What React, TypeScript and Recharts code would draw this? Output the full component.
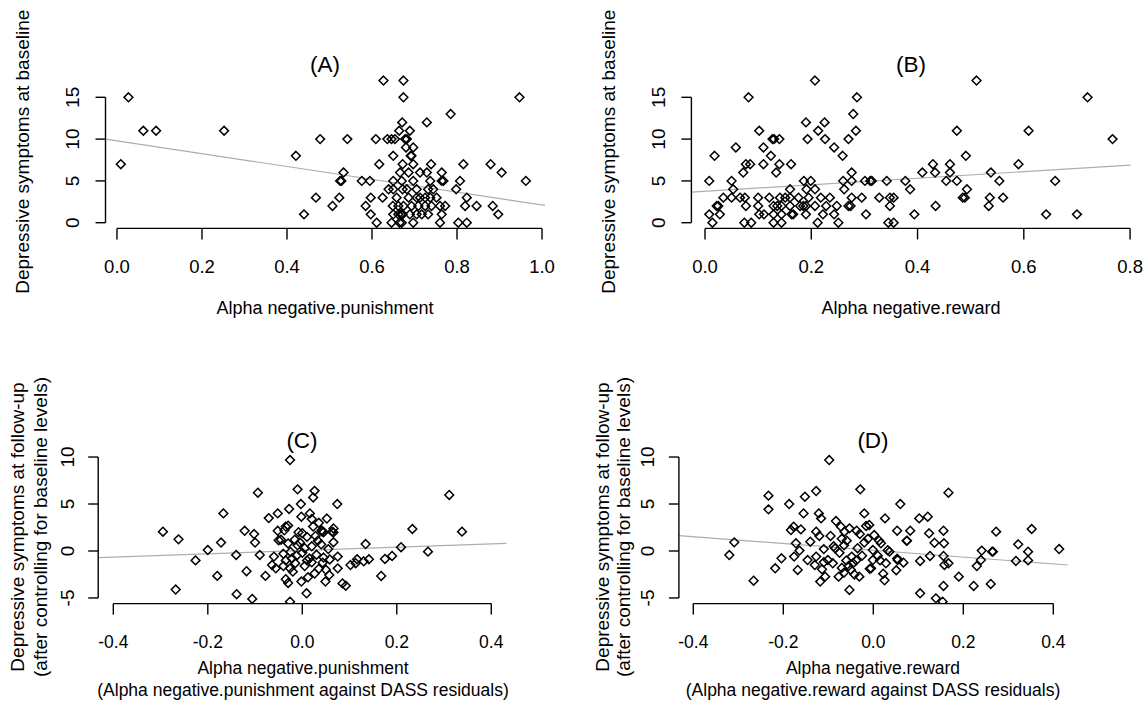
import React from 'react';
import { ScatterChart, Scatter, XAxis, YAxis, ReferenceLine, Customized } from 'recharts';

const FONT = '"Liberation Sans", Arial, Helvetica, sans-serif';

// ---------- data ----------
const panelAPoints: [number, number][] = [
  [0.627, 17], [0.674, 17],
  [0.027, 15], [0.674, 15], [0.947, 15],
  [0.785, 13],
  [0.671, 12], [0.729, 12],
  [0.062, 11], [0.092, 11], [0.252, 11], [0.664, 11], [0.689, 11],
  [0.478, 10], [0.542, 10], [0.609, 10], [0.636, 10], [0.646, 10], [0.654, 10], [0.678, 10], [0.682, 10],
  [0.68, 9], [0.697, 9],
  [0.421, 8], [0.65, 8], [0.691, 8], [0.693, 8],
  [0.009, 7], [0.617, 7], [0.672, 7], [0.697, 7], [0.739, 7], [0.815, 7], [0.879, 7],
  [0.533, 6], [0.666, 6], [0.686, 6], [0.713, 6], [0.729, 6], [0.764, 6], [0.905, 6],
  [0.525, 5], [0.528, 5], [0.576, 5], [0.595, 5], [0.65, 5], [0.67, 5], [0.697, 5], [0.737, 5], [0.764, 5], [0.768, 5], [0.807, 5], [0.962, 5],
  [0.639, 4], [0.65, 4], [0.672, 4], [0.682, 4], [0.705, 4], [0.732, 4], [0.744, 4], [0.798, 4],
  [0.468, 3], [0.523, 3], [0.597, 3], [0.625, 3], [0.658, 3], [0.686, 3], [0.705, 3], [0.713, 3], [0.725, 3], [0.737, 3], [0.752, 3], [0.823, 3],
  [0.507, 2], [0.585, 2], [0.649, 2], [0.662, 2], [0.674, 2], [0.693, 2], [0.709, 2], [0.725, 2], [0.74, 2], [0.76, 2], [0.772, 2], [0.819, 2], [0.846, 2], [0.884, 2],
  [0.44, 1], [0.597, 1], [0.65, 1], [0.662, 1], [0.668, 1], [0.67, 1], [0.672, 1], [0.689, 1], [0.705, 1], [0.717, 1], [0.732, 1], [0.764, 1], [0.897, 1],
  [0.611, 0], [0.646, 0], [0.665, 0], [0.67, 0], [0.697, 0], [0.76, 0], [0.803, 0], [0.823, 0],
];

const panelBPoints: [number, number][] = [
  [0.207, 17], [0.511, 17],
  [0.082, 15], [0.286, 15], [0.72, 15],
  [0.279, 13],
  [0.19, 12], [0.225, 12],
  [0.102, 11], [0.213, 11], [0.284, 11], [0.474, 11], [0.609, 11],
  [0.127, 10], [0.13, 10], [0.14, 10], [0.193, 10], [0.226, 10], [0.27, 10], [0.767, 10],
  [0.058, 9], [0.11, 9], [0.243, 9],
  [0.018, 8], [0.124, 8], [0.259, 8], [0.491, 8],
  [0.077, 7], [0.085, 7], [0.11, 7], [0.14, 7], [0.162, 7], [0.429, 7], [0.461, 7], [0.59, 7],
  [0.072, 6], [0.134, 6], [0.276, 6], [0.409, 6], [0.433, 6], [0.461, 6], [0.538, 6],
  [0.008, 5], [0.05, 5], [0.186, 5], [0.199, 5], [0.26, 5], [0.276, 5], [0.301, 5], [0.311, 5], [0.314, 5], [0.342, 5], [0.377, 5], [0.454, 5], [0.474, 5], [0.554, 5], [0.659, 5],
  [0.053, 4], [0.16, 4], [0.191, 4], [0.207, 4], [0.262, 4], [0.386, 4], [0.493, 4],
  [0.0345, 3], [0.05, 3], [0.066, 3], [0.075, 3], [0.1, 3], [0.121, 3], [0.141, 3], [0.151, 3], [0.16, 3], [0.176, 3], [0.195, 3], [0.218, 3], [0.235, 3], [0.276, 3], [0.295, 3], [0.328, 3], [0.348, 3], [0.355, 3], [0.485, 3], [0.489, 3], [0.536, 3], [0.561, 3],
  [0.022, 2], [0.025, 2], [0.077, 2], [0.1, 2], [0.129, 2], [0.136, 2], [0.144, 2], [0.16, 2], [0.179, 2], [0.185, 2], [0.19, 2], [0.207, 2], [0.228, 2], [0.248, 2], [0.27, 2], [0.274, 2], [0.348, 2], [0.434, 2], [0.534, 2],
  [0.008, 1], [0.028, 1], [0.102, 1], [0.111, 1], [0.129, 1], [0.144, 1], [0.163, 1], [0.166, 1], [0.19, 1], [0.222, 1], [0.243, 1], [0.303, 1], [0.394, 1], [0.642, 1], [0.7, 1],
  [0.014, 0], [0.074, 0], [0.087, 0], [0.129, 0], [0.144, 0], [0.212, 0], [0.251, 0], [0.345, 0], [0.355, 0],
];

const panelCPoints: [number, number][] = [
  [-0.295, 2.05], [-0.262, 1.24], [-0.268, -4.1], [-0.226, -1.0], [-0.2, 0.1], [-0.18, -2.65], [-0.172, 0.9],
  [-0.167, 4.0], [-0.14, -0.42], [-0.139, -4.6], [-0.122, 2.15], [-0.118, -2.15], [-0.102, 1.8], [-0.1, 0.9],
  [-0.094, 6.2], [-0.106, -5.1], [-0.09, -0.42], [-0.078, -2.65], [-0.071, 3.5], [-0.052, 4.0], [-0.052, 2.15],
  [-0.05, 1.15], [-0.06, -0.6], [-0.064, -1.5], [-0.056, -1.85],
  [-0.026, 9.68], [-0.01, 6.56], [0.026, 6.4], [0.023, 5.7], [-0.003, 5.0], [0.074, 5.0], [0.311, 5.96],
  [0.338, 2.06], [0.233, 2.34], [0.266, -0.07], [0.134, 0.74], [0.209, 0.4], [0.19, -0.53], [0.175, -0.85],
  [0.167, -2.66], [0.141, -0.88], [0.13, -1.1], [0.116, -0.88], [0.113, -1.3], [0.102, -1.5], [0.075, -1.85],
  [0.057, -2.56], [0.085, -3.45], [0.092, -3.7], [0.009, -4.5], [-0.026, -5.4], [-0.002, -3.25], [0.075, -0.6],
  [0.066, 0.93], [0.066, 1.98], [0.066, 2.4], [0.052, 3.45], [-0.028, 4.47], [0.016, 4.0], [-0.002, 3.65],
  [-0.035, 2.6], [-0.03, 2.7], [-0.038, 2.2], [0.023, 2.6], [0.041, 2.2], [0.045, 2.0], [0.035, 3.0], [0.02, 3.4],
  [-0.045, 1.2], [-0.016, 1.2], [0.01, 1.5], [0.033, 1.1], [-0.03, 0.8], [-0.01, 0.6], [0.005, 0.3], [0.02, 0.5],
  [0.04, 0.7], [0.055, 0.2], [-0.04, -0.3], [-0.025, -0.1], [-0.012, -0.5], [0.0, -0.2], [0.015, -0.8], [0.03, -0.4],
  [0.045, -0.7], [0.058, -0.9], [-0.035, -1.0], [-0.026, -1.85], [-0.04, -1.6], [-0.015, -1.3], [0.005, -1.6],
  [0.02, -1.2], [0.043, -1.25], [0.035, -1.9], [-0.02, -2.2], [0.026, -2.4], [-0.035, -3.0], [-0.03, -3.4],
  [0.049, -3.25], [0.05, -2.0], [0.012, -2.8], [-0.008, 2.0], [0.0, 1.9], [0.063, 2.06], [0.042, 2.06],
  [-0.022, -0.8], [0.01, -1.0], [-0.005, 0.9], [0.028, 1.6],
];

const panelDPoints: [number, number][] = [
  [-0.098, 9.68], [-0.233, 5.89], [-0.233, 4.43], [-0.187, 5.0], [-0.152, 5.78], [-0.127, 6.38], [-0.029, 6.56],
  [0.167, 6.2], [0.06, 5.0], [-0.155, 4.0], [-0.121, 4.0], [-0.116, 3.47], [-0.02, 4.0], [0.026, 3.47],
  [0.102, 3.47], [0.121, 3.65], [-0.083, 3.19], [-0.072, 2.59], [-0.053, 2.41], [-0.037, 2.16], [-0.064, 2.06],
  [-0.016, 2.66], [0.053, 2.16], [0.082, 2.16], [0.124, 1.88], [0.156, 2.16], [0.273, 2.06], [0.352, 2.34],
  [-0.177, 2.59], [-0.183, 2.23], [-0.161, 2.3], [-0.127, 2.06], [-0.12, 1.6], [-0.309, 0.92], [-0.32, -0.43],
  [-0.266, -3.16], [-0.204, -0.78], [-0.218, -1.84], [-0.168, -2.02], [-0.176, -0.6], [-0.164, 0.04],
  [-0.172, 0.82], [-0.146, -0.96], [-0.14, 0.99], [-0.127, -0.6], [-0.118, -3.26], [-0.114, -1.95],
  [-0.107, -2.73], [-0.101, -0.96], [-0.09, -1.31], [-0.085, 0.28], [-0.077, -2.73], [-0.06, -1.0],
  [-0.055, -1.6], [-0.048, -0.6], [-0.045, -1.3], [-0.038, -1.0], [-0.053, -4.15], [-0.059, 1.1],
  [-0.031, -2.73], [-0.005, -1.84], [-0.008, -1.9], [-0.001, -0.96], [-0.001, 0.1], [0.017, 0.82],
  [0.028, -1.31], [0.025, -3.12], [0.036, -0.07], [0.022, -2.41], [0.054, -0.96], [0.051, -2.05],
  [0.067, -1.24], [0.075, 1.1], [0.104, -1.06], [0.104, -4.5], [0.126, -0.53], [0.139, -5.04], [0.154, -5.39],
  [0.156, -0.53], [0.157, 0.82], [0.158, -1.49], [0.156, -3.72], [0.167, -1.31], [0.19, -2.73], [0.223, -3.72],
  [0.23, -1.6], [0.241, 0.04], [0.239, -0.96], [0.261, -3.51], [0.264, -0.07], [0.266, -0.07], [0.317, -1.06],
  [0.322, 0.71], [0.344, -0.07], [0.344, -1.0], [0.413, 0.21], [-0.009, 2.77], [0.002, 1.7], [0.013, 1.1],
  [0.074, 1.08], [0.136, 0.87], [0.032, 0.08], [0.053, -0.81],
  [-0.095, 1.6], [-0.088, 0.5], [-0.075, -0.2], [-0.07, -1.8], [-0.065, -2.3], [-0.05, -2.0], [-0.042, -2.5],
  [-0.035, 0.3], [-0.025, -0.5], [-0.02, 0.9], [-0.012, 1.3], [-0.03, 1.8], [0.01, -0.5], [0.015, -1.0],
  [-0.065, 0.6], [-0.11, 0.2], [-0.13, -1.5], [-0.11, -1.2], [-0.07, 1.3],
];

// tick values
const xTicksA = [0, 0.2, 0.4, 0.6, 0.8, 1.0];
const xTicksB = [0, 0.2, 0.4, 0.6, 0.8];
const yTicksAB = [0, 5, 10, 15];
const xTicksCD = [-0.4, -0.2, 0, 0.2, 0.4];
const yTicksCD = [-5, 0, 5, 10];

// fitted regression lines (intercept, slope)
const fitA = { intercept: 9.79, slope: -7.66 };
const fitB = { intercept: 3.75, slope: 3.93 };
const fitC = { intercept: 0.05, slope: 1.77 };
const fitD = { intercept: 0.07, slope: -3.61 };

// ---------- layout ----------
type Box = { left: number; top: number; w: number; h: number };
type Plot = { l: number; t: number; r: number; b: number };
type PanelCfg = {
  id: string;
  box: Box;
  plot: Plot;
  xDomain: [number, number];
  yDomain: [number, number];
  xTicks: number[];
  yTicks: number[];
  points: [number, number][];
  fit: { intercept: number; slope: number };
  title: string;
  titlePos: [number, number];
  xLabel: string[];
  xLabelX: number;
  xLabelY: number[];
  xLabelSize: number;
  yLabel: string[];
  yLabelX: number[];
  yLabelY: number;
  xTickY: number;
  yTickX: number;
  xTickSize: number;
};

const panels: PanelCfg[] = [
  {
    id: 'A',
    box: { left: 0, top: 0, w: 573, h: 330 },
    plot: { l: 105.5, t: 74.9, r: 545, b: 228.4 },
    xDomain: [-0.027, 1.007],
    yDomain: [-0.68, 17.68],
    xTicks: xTicksA,
    yTicks: yTicksAB,
    points: panelAPoints,
    fit: fitA,
    title: '(A)',
    titlePos: [325, 64],
    xLabel: ['Alpha negative.punishment'],
    xLabelX: 325,
    xLabelY: [308],
    xLabelSize: 18,
    yLabel: ['Depressive symptoms at baseline'],
    yLabelX: [23],
    yLabelY: 151.7,
    xTickY: 266,
    yTickX: 72.5,
    xTickSize: 18.5,
  },
  {
    id: 'B',
    box: { left: 573, top: 0, w: 573, h: 330 },
    plot: { l: 691.4, t: 74.9, r: 1130.4, b: 228.4 },
    xDomain: [-0.0256, 0.8006],
    yDomain: [-0.68, 17.68],
    xTicks: xTicksB,
    yTicks: yTicksAB,
    points: panelBPoints,
    fit: fitB,
    title: '(B)',
    titlePos: [911, 64],
    xLabel: ['Alpha negative.reward'],
    xLabelX: 911,
    xLabelY: [308],
    xLabelSize: 18,
    yLabel: ['Depressive symptoms at baseline'],
    yLabelX: [609],
    yLabelY: 151.7,
    xTickY: 266,
    yTickX: 659,
    xTickSize: 18.5,
  },
  {
    id: 'C',
    box: { left: 0, top: 330, w: 573, h: 373 },
    plot: { l: 98.2, t: 451.4, r: 506.4, b: 603.6 },
    xDomain: [-0.432, 0.432],
    yDomain: [-5.6, 10.6],
    xTicks: xTicksCD,
    yTicks: yTicksCD,
    points: panelCPoints,
    fit: fitC,
    title: '(C)',
    titlePos: [302, 440],
    xLabel: ['Alpha negative.punishment', '(Alpha negative.punishment against DASS residuals)'],
    xLabelX: 303,
    xLabelY: [668, 690],
    xLabelSize: 17.5,
    yLabel: ['Depressive symptoms at follow-up', '(after controlling for baseline levels)'],
    yLabelX: [17, 40],
    yLabelY: 527,
    xTickY: 642,
    yTickX: 68,
    xTickSize: 17.5,
  },
  {
    id: 'D',
    box: { left: 573, top: 330, w: 573, h: 373 },
    plot: { l: 678.9, t: 451.4, r: 1067.7, b: 603.6 },
    xDomain: [-0.432, 0.432],
    yDomain: [-5.6, 10.6],
    xTicks: xTicksCD,
    yTicks: yTicksCD,
    points: panelDPoints,
    fit: fitD,
    title: '(D)',
    titlePos: [873, 440],
    xLabel: ['Alpha negative.reward', '(Alpha negative.reward against DASS residuals)'],
    xLabelX: 873,
    xLabelY: [668, 690],
    xLabelSize: 17.5,
    yLabel: ['Depressive symptoms at follow-up', '(after controlling for baseline levels)'],
    yLabelX: [602, 623],
    yLabelY: 527,
    xTickY: 642,
    yTickX: 648,
    xTickSize: 17.5,
  },
];

const R = 4.4;
const Diamond = (p: any) => {
  const { cx, cy } = p;
  if (cx == null || cy == null) return null;
  return (
    <path
      d={`M${cx},${cy - R}L${cx + R},${cy}L${cx},${cy + R}L${cx - R},${cy}Z`}
      fill="none"
      stroke="#000"
      strokeWidth={1.5}
    />
  );
};

const fmtX = (v: number) => v.toFixed(1);
const fmtY = (v: number) => String(v);

function Panel({ cfg }: { cfg: PanelCfg }) {
  const { box, plot } = cfg;
  const data = cfg.points.map(([x, y]) => ({ x, y }));
  const lx = (px: number) => px - box.left;
  const ly = (py: number) => py - box.top;
  const margin = { top: plot.t - box.top, right: box.left + box.w - plot.r, bottom: 0, left: 0 };
  const yAxisW = plot.l - box.left;
  const xAxisH = box.top + box.h - plot.b;
  const [x0, x1] = cfg.xDomain;
  const [y0] = cfg.yDomain;
  const fitAt = (x: number) => cfg.fit.intercept + cfg.fit.slope * x;

  const XTick = (p: any) => (
    <text
      x={p.x}
      y={ly(cfg.xTickY)}
      textAnchor="middle"
      dominantBaseline="central"
      fontFamily={FONT}
      fontSize={cfg.xTickSize}
      fill="#000"
    >
      {fmtX(p.payload.value)}
    </text>
  );
  const YTick = (p: any) => {
    const cx = lx(cfg.yTickX);
    return (
      <text
        x={cx}
        y={p.y}
        transform={`rotate(-90 ${cx} ${p.y})`}
        textAnchor="middle"
        dominantBaseline="central"
        fontFamily={FONT}
        fontSize={19}
        fill="#000"
      >
        {fmtY(p.payload.value)}
      </text>
    );
  };

  const Labels = () => (
    <g>
      <text
        x={lx(cfg.titlePos[0])}
        y={ly(cfg.titlePos[1])}
        textAnchor="middle"
        dominantBaseline="central"
        fontFamily={FONT}
        fontSize={22.5}
        fill="#000"
      >
        {cfg.title}
      </text>
      {cfg.xLabel.map((t, i) => (
        <text
          key={'xl' + i}
          x={lx(cfg.xLabelX)}
          y={ly(cfg.xLabelY[i])}
          textAnchor="middle"
          dominantBaseline="central"
          fontFamily={FONT}
          fontSize={cfg.xLabelSize}
          fill="#000"
        >
          {t}
        </text>
      ))}
      {cfg.yLabel.map((t, i) => {
        const cx = lx(cfg.yLabelX[i]);
        const cy = ly(cfg.yLabelY);
        return (
          <text
            key={'yl' + i}
            x={cx}
            y={cy}
            transform={`rotate(-90 ${cx} ${cy})`}
            textAnchor="middle"
            dominantBaseline="central"
            fontFamily={FONT}
            fontSize={19}
            fill="#000"
          >
            {t}
          </text>
        );
      })}
    </g>
  );

  return (
    <div style={{ position: 'absolute', left: box.left, top: box.top, width: box.w, height: box.h }}>
      <ScatterChart width={box.w} height={box.h} margin={margin}>
        <XAxis
          type="number"
          dataKey="x"
          domain={cfg.xDomain}
          ticks={cfg.xTicks}
          allowDataOverflow
          interval={0}
          axisLine={false}
          tickLine={{ stroke: '#000', strokeWidth: 1.4 }}
          tickSize={11}
          tickMargin={0}
          height={xAxisH}
          tick={XTick}
        />
        <YAxis
          type="number"
          dataKey="y"
          domain={cfg.yDomain}
          ticks={cfg.yTicks}
          allowDataOverflow
          interval={0}
          axisLine={false}
          tickLine={{ stroke: '#000', strokeWidth: 1.4 }}
          tickSize={10}
          tickMargin={0}
          width={yAxisW}
          tick={YTick}
        />
        <ReferenceLine
          segment={[
            { x: x0, y: fitAt(x0) },
            { x: x1, y: fitAt(x1) },
          ]}
          stroke="#adadad"
          strokeWidth={1.2}
          ifOverflow="visible"
        />
        <Scatter data={data} shape={Diamond} isAnimationActive={false} />
        <ReferenceLine
          segment={[
            { x: cfg.xTicks[0], y: y0 },
            { x: cfg.xTicks[cfg.xTicks.length - 1], y: y0 },
          ]}
          stroke="#000"
          strokeWidth={1.4}
          ifOverflow="visible"
        />
        <ReferenceLine
          segment={[
            { x: x0, y: cfg.yTicks[0] },
            { x: x0, y: cfg.yTicks[cfg.yTicks.length - 1] },
          ]}
          stroke="#000"
          strokeWidth={1.4}
          ifOverflow="visible"
        />
        <Customized component={<Labels />} />
      </ScatterChart>
    </div>
  );
}

export default function App() {
  return (
    <div
      style={{
        position: 'absolute',
        left: 0,
        top: 0,
        width: 1146,
        height: 703,
        background: '#fff',
        overflow: 'hidden',
      }}
    >
      {panels.map((p) => (
        <Panel key={p.id} cfg={p} />
      ))}
    </div>
  );
}
